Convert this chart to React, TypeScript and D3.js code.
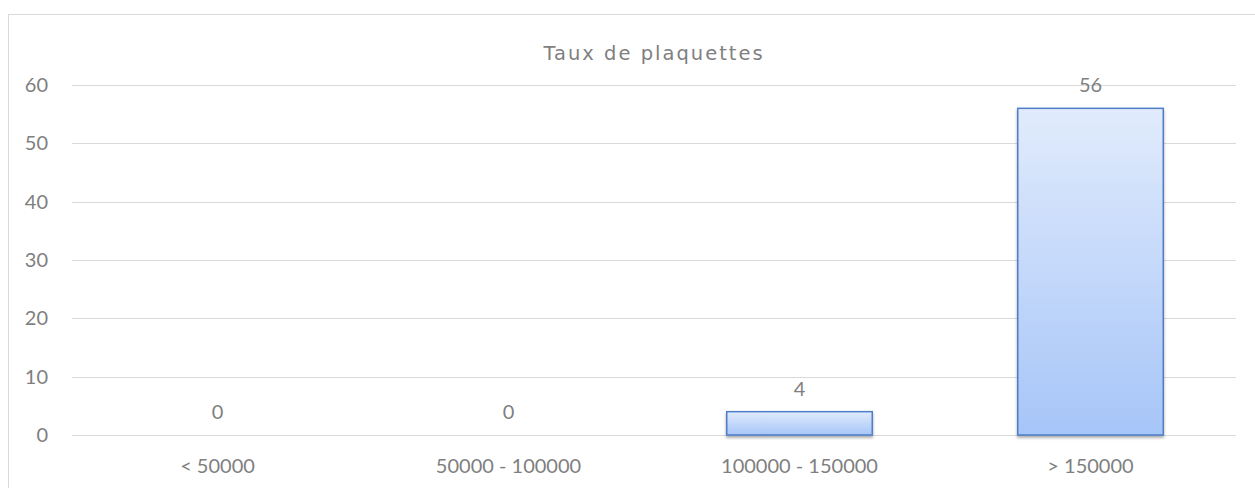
import React from "react";
import * as d3 from "d3";

const categories = ["< 50000", "50000 - 100000", "100000 - 150000", "> 150000"];
const values = [0, 0, 4, 56];
const yTicks = [0, 10, 20, 30, 40, 50, 60];
const title = "Taux de plaquettes";

export default function App() {
  const W = 1255, H = 488;
  const left = 72, right = 1236, top = 85, bottom = 435;
  const x = d3.scaleBand<string>().domain(categories).range([left, right]).paddingInner(0.5).paddingOuter(0.25);
  const y = d3.scaleLinear().domain([0, 60]).range([bottom, top]);
  const font = "Lato, 'Open Sans', sans-serif";
  const fs = 20;
  const col = "#7f7f7f";
  return (
    <svg width={W} height={H} style={{ position: "absolute", left: 0, top: 0 }}>
      <defs>
        <linearGradient id="barGrad" x1="0" y1="0" x2="0" y2="1">
          <stop offset="0%" stopColor="#e1ebfc" />
          <stop offset="100%" stopColor="#a6c5f8" />
        </linearGradient>
        <filter id="shadow" x="-10%" y="-10%" width="120%" height="130%">
          <feDropShadow dx="0" dy="2" stdDeviation="1.5" floodColor="#000" floodOpacity="0.35" />
        </filter>
      </defs>
      <rect x={8.5} y={14.5} width={W} height={H} fill="#fff" stroke="#d9d9d9" strokeWidth={1} />
      <text x={654} y={60} textAnchor="middle" fontFamily="'DejaVu Sans', sans-serif" fontSize={19.5} letterSpacing={2} fill={col}>{title}</text>
      {yTicks.map(t => (
        <g key={t}>
          <line x1={left} x2={right} y1={Math.round(y(t)) + 0.5} y2={Math.round(y(t)) + 0.5} stroke="#d9d9d9" strokeWidth={1} />
          <text x={48} y={y(t)} dy="0.35em" textAnchor="end" fontFamily={font} fontSize={fs} fill={col}>{t}</text>
        </g>
      ))}
      {categories.map((c, i) => {
        const v = values[i];
        const bx = x(c)!;
        const bw = x.bandwidth();
        const cx = bx + bw / 2;
        return (
          <g key={c}>
            {v > 0 && (
              <rect x={bx} y={y(v)} width={bw} height={y(0) - y(v)} fill="url(#barGrad)" stroke="#4f7fc8" strokeWidth={1.5} filter="url(#shadow)" />
            )}
            <text x={cx} y={y(v) - 23} dy="0.35em" textAnchor="middle" fontFamily={font} fontSize={fs} fill={col}>{v}</text>
            <text x={cx} y={466} dy="0.35em" textAnchor="middle" fontFamily={font} fontSize={fs} fill={col}>{c}</text>
          </g>
        );
      })}
    </svg>
  );
}
